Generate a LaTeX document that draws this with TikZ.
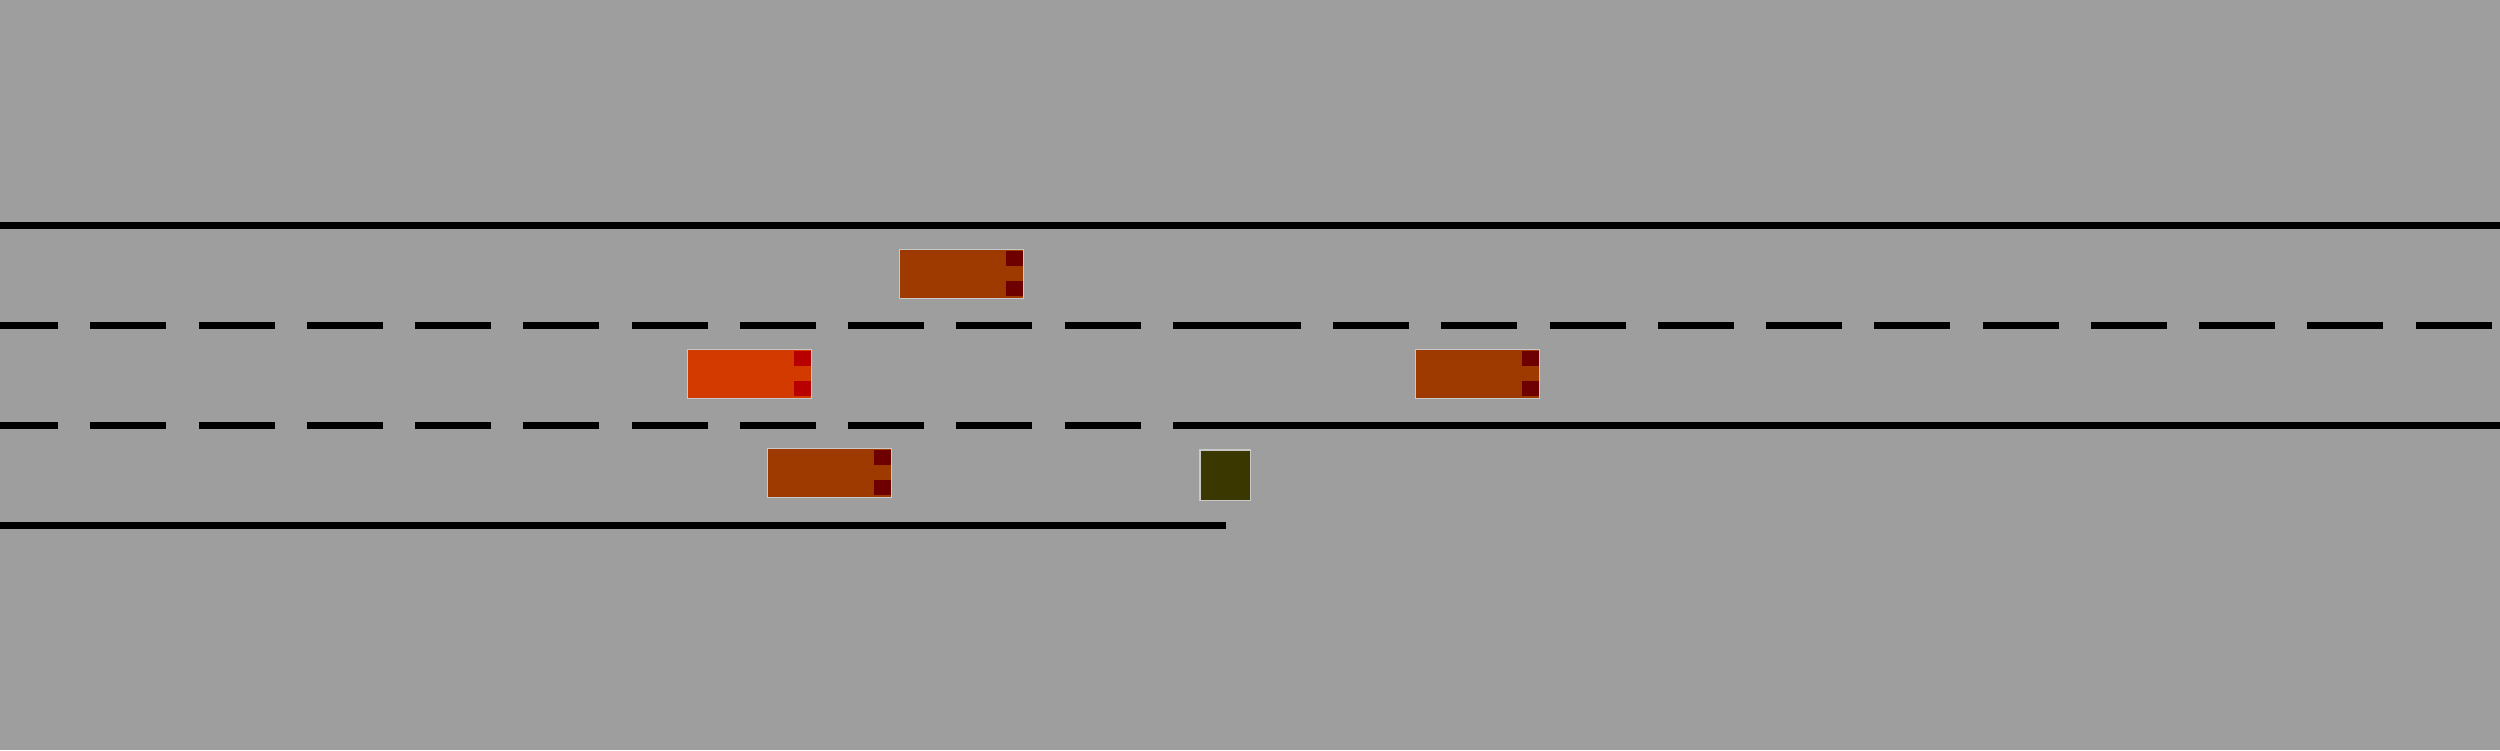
\documentclass[tikz,border=0pt]{standalone}
\usetikzlibrary{positioning}
\definecolor{road}{HTML}{9E9E9E}
\definecolor{carbody}{HTML}{9E3A00}
\definecolor{egobody}{HTML}{D23A00}
\definecolor{carlight}{HTML}{6E0000}
\definecolor{egolight}{HTML}{B80000}
\definecolor{obst}{HTML}{3A3800}
\definecolor{rim}{HTML}{C8C8C8}
\tikzset{
  lane/.style={line width=0.07cm, black},
  dashlane/.style={lane, dash pattern=on 0.76cm off 0.322cm},
  carbox/.style={draw=rim, line width=0.3pt, fill=carbody, rectangle, inner sep=0pt, outer sep=0pt,
     minimum width=1.24cm, minimum height=0.49cm, anchor=north west},
  egobox/.style={carbox, fill=egobody},
  lightbox/.style={rectangle, inner sep=0pt, outer sep=0pt, fill=carlight,
     minimum width=0.17cm, minimum height=0.15cm},
  egolightbox/.style={lightbox, fill=egolight},
  obstbox/.style={draw=rim, line width=0.3pt, fill=obst, rectangle, inner sep=0pt, outer sep=0pt,
     minimum width=0.5cm, minimum height=0.5cm, anchor=north west}
}
\begin{document}
\begin{tikzpicture}[x=0.01cm, y=-0.01cm]
\fill[road] (0,0) rectangle (2500,750);
\useasboundingbox (0,0) rectangle (2500,750);
% lane markings
\draw[lane] (0,225.5) -- (2500,225.5);
\draw[dashlane, dash phase=0.18cm] (0,325.5) -- (1173,325.5);
\draw[lane] (1173,325.5) -- (1301,325.5);
\draw[dashlane] (1333,325.5) -- (2500,325.5);
\draw[dashlane, dash phase=0.18cm] (0,425.5) -- (1173,425.5);
\draw[lane] (1173,425.5) -- (2500,425.5);
\draw[lane] (0,525.5) -- (1226,525.5);
% cars
\node[carbox] (car1) at (899.5,249.5) {};
\node[lightbox, anchor=north east] (car1la) at ([xshift=-0.005cm,yshift=-0.015cm]car1.north east) {};
\node[lightbox, anchor=south east] (car1lb) at ([xshift=-0.005cm,yshift=0.025cm]car1.south east) {};
\node[egobox] (ego) at (687.5,349.5) {};
\node[egolightbox, anchor=north east] (egola) at ([xshift=-0.005cm,yshift=-0.015cm]ego.north east) {};
\node[egolightbox, anchor=south east] (egolb) at ([xshift=-0.005cm,yshift=0.025cm]ego.south east) {};
\node[carbox] (car3) at (767.5,448.5) {};
\node[lightbox, anchor=north east] (car3la) at ([xshift=-0.005cm,yshift=-0.015cm]car3.north east) {};
\node[lightbox, anchor=south east] (car3lb) at ([xshift=-0.005cm,yshift=0.025cm]car3.south east) {};
\node[carbox] (car4) at (1415.5,349.5) {};
\node[lightbox, anchor=north east] (car4la) at ([xshift=-0.005cm,yshift=-0.015cm]car4.north east) {};
\node[lightbox, anchor=south east] (car4lb) at ([xshift=-0.005cm,yshift=0.025cm]car4.south east) {};
% obstacle
\node[obstbox] (obstacle) at (1200,450) {};
\end{tikzpicture}
\end{document}
